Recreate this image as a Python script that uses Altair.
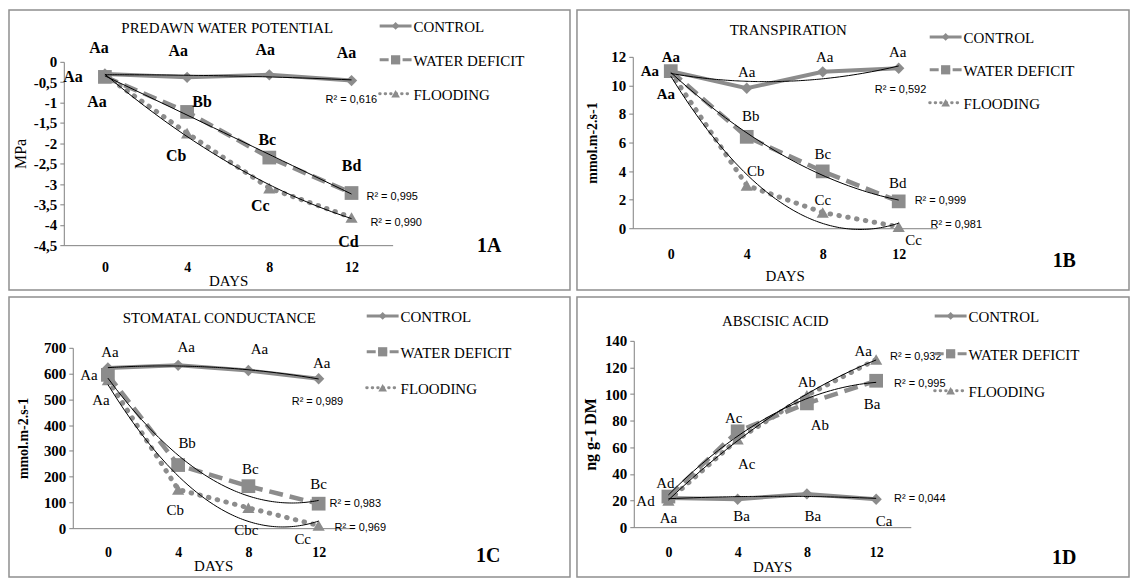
import altair as alt
import pandas as pd

# ---------------- data ----------------
DAYS = [0, 4, 8, 12]
SERIES = ["CONTROL", "WATER DEFICIT", "FLOODING"]

A_TITLE = "PREDAWN WATER POTENTIAL"
A_Y_TITLE = "MPa"
A_Y_TICKS = [0, -0.5, -1, -1.5, -2, -2.5, -3, -3.5, -4, -4.5]
A_CONTROL = [-0.30, -0.38, -0.32, -0.46]
A_WATER_DEFICIT = [-0.37, -1.23, -2.35, -3.22]
A_FLOODING = [-0.33, -1.75, -3.10, -3.82]
A_CONTROL_LETTERS = ["Aa", "Aa", "Aa", "Aa"]
A_WATER_DEFICIT_LETTERS = ["Aa", "Bb", "Bc", "Bd"]
A_FLOODING_LETTERS = ["Aa", "Cb", "Cc", "Cd"]
A_R2 = ["0,616", "0,995", "0,990"]
A_TAG = "1A"

B_TITLE = "TRANSPIRATION"
B_Y_TITLE = "mmol.m-2.s-1"
B_Y_TICKS = [0, 2, 4, 6, 8, 10, 12]
B_CONTROL = [11.0, 9.8, 10.95, 11.2]
B_WATER_DEFICIT = [11.0, 6.4, 3.98, 1.88]
B_FLOODING = [10.9, 3.0, 1.1, 0.1]
B_CONTROL_LETTERS = ["Aa", "Aa", "Aa", "Aa"]
B_WATER_DEFICIT_LETTERS = ["Aa", "Bb", "Bc", "Bd"]
B_FLOODING_LETTERS = ["Aa", "Cb", "Cc", "Cc"]
B_R2 = ["0,592", "0,999", "0,981"]
B_TAG = "1B"

C_TITLE = "STOMATAL CONDUCTANCE"
C_Y_TITLE = "mmol.m-2.s-1"
C_Y_TICKS = [0, 100, 200, 300, 400, 500, 600, 700]
C_CONTROL = [622, 632, 612, 580]
C_WATER_DEFICIT = [595, 245, 163, 95]
C_FLOODING = [575, 150, 79, 10]
C_CONTROL_LETTERS = ["Aa", "Aa", "Aa", "Aa"]
C_WATER_DEFICIT_LETTERS = ["Aa", "Bb", "Bc", "Bc"]
C_FLOODING_LETTERS = ["Aa", "Cb", "Cbc", "Cc"]
C_R2 = ["0,989", "0,983", "0,969"]
C_TAG = "1C"

D_TITLE = "ABSCISIC ACID"
D_Y_TITLE = "ng g-1 DM"
D_Y_TICKS = [0, 20, 40, 60, 80, 100, 120, 140]
D_CONTROL = [22, 21, 25, 21]
D_WATER_DEFICIT = [23, 72, 93, 110]
D_FLOODING = [20, 66, 99, 126]
D_CONTROL_LETTERS = ["Aa", "Ba", "Ba", "Ca"]
D_WATER_DEFICIT_LETTERS = ["Ad", "Ac", "Ab", "Ba"]
D_FLOODING_LETTERS = ["Ad", "Ac", "Ab", "Aa"]
D_R2 = ["0,044", "0,995", "0,932"]
D_TAG = "1D"

# ---------------- styles / layout ----------------
SERIF = "Liberation Serif"
SANS = "Liberation Sans Narrow, Liberation Sans"
GRAY = "#8c8c8c"
AXC = "#7f7f7f"

STYLE = {
    "CONTROL": dict(line=dict(strokeWidth=4), shape="diamond", size=130,
                    leg_line=dict(strokeWidth=3), leg_size=60),
    "WATER DEFICIT": dict(line=dict(strokeWidth=4.5, strokeDash=[14, 7]), shape="square", size=190,
                          leg_line=dict(strokeWidth=3, strokeDash=[9, 2.5]), leg_size=85),
    "FLOODING": dict(line=dict(strokeWidth=5, strokeDash=[0.5, 8.5], strokeCap="round"),
                     shape="triangle-up", size=150,
                     leg_line=dict(strokeWidth=3, strokeDash=[0.5, 5], strokeCap="round"), leg_size=75),
}

LAYOUT = {
    "A": dict(W=563, H=281, xr=[55, 385], yr=[236, 52], ydom=[-4.5, 0],
              title_xy=(219, 18), tag_xy=(482, 237), ytitle_x=12, ytitle_size=16,
              ytitle_weight="normal", xlab_pad=15, xtitle_y=35,
              legend_x=372, legend_rows=[16, 50, 84], letter_size=16),
    "B": dict(W=554, H=281, xr=[56, 361], yr=[219, 47], ydom=[0, 12],
              title_xy=(212, 20), tag_xy=(489, 252), ytitle_x=16, ytitle_size=14,
              ytitle_weight="bold", xlab_pad=19, xtitle_y=47,
              legend_x=354, legend_rows=[27, 60, 93], letter_size=15),
    "C": dict(W=563, H=281, xr=[64, 346], yr=[232, 51], ydom=[0, 700],
              title_xy=(211, 21), tag_xy=(481, 260), ytitle_x=15, ytitle_size=14,
              ytitle_weight="bold", xlab_pad=17, xtitle_y=37,
              legend_x=359, legend_rows=[19, 55, 91], letter_size=15),
    "D": dict(W=554, H=281, xr=[57, 335], yr=[231, 44], ydom=[0, 140],
              title_xy=(199, 24), tag_xy=(489, 262), ytitle_x=14, ytitle_size=16,
              ytitle_weight="bold", xlab_pad=18, xtitle_y=39,
              legend_x=359, legend_rows=[19, 57, 94], letter_size=15),
}

OFFSETS = {
    "A": {"CONTROL": [(-6, -26), (-9, -26), (-4, -25), (-5, -28)],
          "WATER DEFICIT": [(-32, 0), (15, -10), (-2, -18), (0, -27)],
          "FLOODING": [(-8, 27), (-11, 23), (-9, 18), (-3, 25)]},
    "B": {"CONTROL": [(0, -14), (0, -16), (2, -15), (-1, -16)],
          "WATER DEFICIT": [(-21, 0), (4, -21), (0, -17), (-1, -18)],
          "FLOODING": [(-5, 22), (9, -14), (0, -13), (15, 13)]},
    "C": {"CONTROL": [(2, -16), (8, -18), (11, -22), (3, -16)],
          "WATER DEFICIT": [(-19, 0), (9, -22), (2, -17), (0, -20)],
          "FLOODING": [(-7, 20), (-3, 21), (-2, 22), (-16, 13)]},
    "D": {"CONTROL": [(0, 20), (4, 17), (6, 22), (8, 22)],
          "WATER DEFICIT": [(-23, 4), (-4, -13), (13, 22), (-4, 23)],
          "FLOODING": [(-3, -18), (9, 25), (0, -13), (-13, -8)]},
}
R2_OFFSETS = {
    "A": {"CONTROL": (-26, 20), "WATER DEFICIT": (15, 4), "FLOODING": (19, 6)},
    "B": {"CONTROL": (-24, 22), "WATER DEFICIT": (16, 0), "FLOODING": (32, -2)},
    "C": {"CONTROL": (-27, 23), "WATER DEFICIT": (11, 0), "FLOODING": (16, 2)},
    "D": {"CONTROL": (18, 0), "WATER DEFICIT": (18, 3), "FLOODING": (14, -2)},
}


def letter_weight(key, day_index):
    if key == "A":
        return "bold"
    if key == "B" and day_index == 0:
        return "bold"
    return "normal"


def panel_frame(values, letters, r2):
    rows = []
    for s, vals, lets, r in zip(SERIES, values, letters, r2):
        for d, v, l in zip(DAYS, vals, lets):
            rows.append({"series": s, "day": d, "value": v, "letter": l, "r2": "R\u00b2 = " + r})
    return pd.DataFrame(rows)


def build_panel(key, df, title, ytitle, yticks, tag):
    L = LAYOUT[key]
    W, H = L["W"], L["H"]
    x_scale = alt.Scale(domain=[-2, 14], range=L["xr"], nice=False, zero=False)
    y_scale = alt.Scale(domain=L["ydom"], range=L["yr"], nice=False, zero=False)
    x_axis = alt.Axis(values=DAYS, offset=L["yr"][0] - H, ticks=False, tickSize=0,
                      domainColor=AXC, domainWidth=1, grid=False, labelFlush=False,
                      labelFont=SERIF, labelFontSize=14, labelFontWeight="bold",
                      labelColor="black", labelPadding=L["xlab_pad"],
                      title="DAYS", titleFont=SERIF, titleFontSize=15,
                      titleFontWeight="normal", titleColor="black",
                      titleY=L["xtitle_y"], titleBaseline="middle")
    y_axis = alt.Axis(values=yticks, offset=-L["xr"][0],
                      labelExpr="replace(toString(datum.value), '.', ',')",
                      domainColor=AXC, domainWidth=1, tickColor=AXC, tickSize=4,
                      grid=False, labelFont=SERIF, labelFontSize=15,
                      labelFontWeight="bold", labelColor="black", labelPadding=3,
                      title=ytitle, titleFont=SERIF, titleFontSize=L["ytitle_size"],
                      titleFontWeight=L["ytitle_weight"], titleColor="black",
                      titleX=L["ytitle_x"] - L["xr"][0], titleBaseline="middle")
    X = alt.X("day:Q", scale=x_scale, axis=x_axis)
    Y = alt.Y("value:Q", scale=y_scale, axis=y_axis)
    base = alt.Chart(df)
    layers = []
    for s in SERIES:
        st = STYLE[s]
        layers.append(base.transform_filter(alt.datum.series == s)
                      .mark_line(color=GRAY, **st["line"]).encode(x=X, y=Y))
    for s in SERIES:
        st = STYLE[s]
        layers.append(base.transform_filter(alt.datum.series == s)
                      .mark_point(shape=st["shape"], size=st["size"], filled=True,
                                  color=GRAY, opacity=1).encode(x=X, y=Y))
    layers.append(base.transform_regression("day", "value", groupby=["series"],
                                            method="poly", order=2)
                  .mark_line(color="black", strokeWidth=1)
                  .encode(x=X, y=Y, detail="series:N"))
    for s in SERIES:
        for i, d in enumerate(DAYS):
            dx, dy = OFFSETS[key][s][i]
            layers.append(base.transform_filter((alt.datum.series == s) & (alt.datum.day == d))
                          .mark_text(dx=dx, dy=dy, font=SERIF, fontSize=L["letter_size"],
                                     fontWeight=letter_weight(key, i), color="black")
                          .encode(x=X, y=Y, text="letter:N"))
    for s in SERIES:
        dx, dy = R2_OFFSETS[key][s]
        layers.append(base.transform_filter((alt.datum.series == s) & (alt.datum.day == 12))
                      .mark_text(dx=dx, dy=dy, align="left", font=SANS, fontSize=11,
                                 color="black")
                      .encode(x=X, y=Y, text="r2:N"))
    # legend (line + marker + label for each series)
    lx = L["legend_x"]
    for s, ry in zip(SERIES, L["legend_rows"]):
        st = STYLE[s]
        one = alt.Chart(pd.DataFrame({"series": [s]}))
        layers.append(one.mark_rule(color=GRAY, **st["leg_line"])
                      .encode(x=alt.value(lx), x2=alt.value(lx + 32), y=alt.value(ry)))
        layers.append(one.mark_point(shape=st["shape"], size=st["leg_size"], filled=True,
                                     color=GRAY, opacity=1)
                      .encode(x=alt.value(lx + 16), y=alt.value(ry)))
        layers.append(one.mark_text(align="left", baseline="middle", font=SERIF, fontSize=15,
                                    color="black")
                      .encode(x=alt.value(lx + 34), y=alt.value(ry + 1), text="series:N"))
    layers.append(alt.Chart(pd.DataFrame({"t": [title]}))
                  .mark_text(font=SERIF, fontSize=15, color="black")
                  .encode(x=alt.value(L["title_xy"][0]), y=alt.value(L["title_xy"][1]), text="t:N"))
    layers.append(alt.Chart(pd.DataFrame({"t": [tag]}))
                  .mark_text(font=SERIF, fontSize=20, fontWeight="bold", color="black")
                  .encode(x=alt.value(L["tag_xy"][0]), y=alt.value(L["tag_xy"][1]), text="t:N"))
    return alt.layer(*layers).properties(width=W, height=H)


pA = build_panel("A", panel_frame([A_CONTROL, A_WATER_DEFICIT, A_FLOODING],
                                  [A_CONTROL_LETTERS, A_WATER_DEFICIT_LETTERS, A_FLOODING_LETTERS], A_R2),
                 A_TITLE, A_Y_TITLE, A_Y_TICKS, A_TAG)
pB = build_panel("B", panel_frame([B_CONTROL, B_WATER_DEFICIT, B_FLOODING],
                                  [B_CONTROL_LETTERS, B_WATER_DEFICIT_LETTERS, B_FLOODING_LETTERS], B_R2),
                 B_TITLE, B_Y_TITLE, B_Y_TICKS, B_TAG)
pC = build_panel("C", panel_frame([C_CONTROL, C_WATER_DEFICIT, C_FLOODING],
                                  [C_CONTROL_LETTERS, C_WATER_DEFICIT_LETTERS, C_FLOODING_LETTERS], C_R2),
                 C_TITLE, C_Y_TITLE, C_Y_TICKS, C_TAG)
pD = build_panel("D", panel_frame([D_CONTROL, D_WATER_DEFICIT, D_FLOODING],
                                  [D_CONTROL_LETTERS, D_WATER_DEFICIT_LETTERS, D_FLOODING_LETTERS], D_R2),
                 D_TITLE, D_Y_TITLE, D_Y_TICKS, D_TAG)

chart = alt.vconcat(
    alt.hconcat(pA, pB, spacing=5),
    alt.hconcat(pC, pD, spacing=5),
    spacing=5,
).properties(padding=0, background="white").configure_view(stroke="#8f8f8f", strokeWidth=1.5)

chart.save("out.html", embed_options={"renderer": "svg", "actions": False})
